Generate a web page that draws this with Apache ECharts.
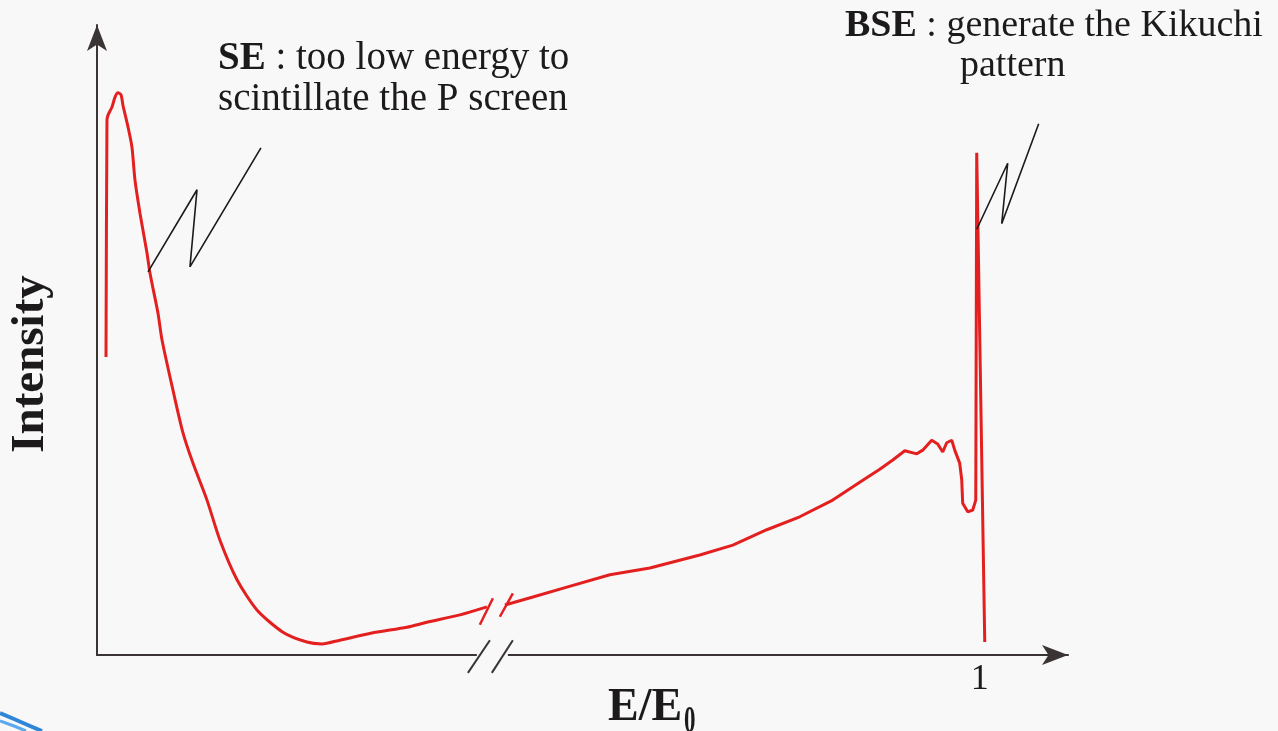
<!DOCTYPE html>
<html>
<head>
<meta charset="utf-8">
<script src="https://cdn.jsdelivr.net/npm/echarts@6/dist/echarts.min.js"></script>
<style>
html,body{margin:0;padding:0;background:#f8f8f8;}
#chart{width:1278px;height:731px;}
</style>
</head>
<body>
<div id="chart"></div>
<script>
// ---- data (x = E/E0 in arbitrary axis units, 1 = elastic peak; y = intensity) ----
const seX = [0.0102,0.0113,0.0125,0.0170,0.0204,0.0238,0.0272,0.0294,0.0351,0.0396,0.0430,0.0487,0.0566,0.0600,0.0691,0.0736,0.0861,0.0974,0.1087,0.1246,0.1393,0.1586,0.1812,0.2106,0.2378,0.2548,0.2752,0.3126,0.3511,0.3737,0.4111,0.4417];
const seY = [48.3,86.7,87.5,88.8,90.4,91.1,90.8,89.1,85.6,82.3,77.0,71.6,65.2,61.9,55.4,51.1,42.9,36.0,31.1,25.1,18.6,12.2,7.3,3.7,2.1,1.8,2.4,3.6,4.5,5.3,6.5,7.8];

const bseX = [0.4621,0.4938,0.5323,0.5810,0.6263,0.6829,0.7203,0.7588,0.7961,0.8335,0.8641,0.8868,0.9015,0.9151,0.9287,0.9354,0.9456,0.9524,0.9581,0.9626,0.9683,0.9717,0.9773,0.9796,0.9807,0.9864,0.9921,0.9955,0.9966,1.0057];
const bseY = [8.1,9.4,11.0,13.0,14.1,16.2,17.8,20.3,22.4,25.1,28.0,30.1,31.6,33.1,32.6,33.2,34.8,34.2,32.9,34.4,34.8,33.2,31.1,28.4,24.6,23.2,23.5,25.1,81.4,2.1];

// annotation leader zigzags
const seNoteX = [0.0578,0.1133,0.1053,0.1857];
const seNoteY = [62.1,75.4,62.9,82.2];
const bseNoteX = [0.9966,1.0317,1.0249,1.0668];
const bseNoteY = [69.0,79.7,69.9,86.1];

// break marks
const curveBreakX = [[0.4337,0.4485],[0.4564,0.4711]];
const curveBreakY = [[4.9,9.2],[6.2,10.0]];
const axisBreakX = [[0.4202,0.4451],[0.4473,0.4711]];
const axisBreakY = [[-2.9,2.4],[-2.9,2.4]];
const axisGapX = [0.4303,0.4655];

// axis labels / texts
const xTickValues = [1];
const xTickLabels = ['1'];
const xTitle = 'E/E';
const xTitleSub = '0';
const yTitle = 'Intensity';
const seTitle = 'SE';
const seText1 = ' : too low energy to';
const seText2 = 'scintillate the P screen';
const bseTitle = 'BSE';
const bseText1 = ' : generate the Kikuchi';
const bseText2 = 'pattern';

// ---- chart ----
const zip = (xs, ys) => xs.map((x, i) => [x, ys[i]]);
const RED = '#e3201f';
const INK = '#1c1a1a';
const AXIS = '#3a3434';
const BG = '#f8f8f8';
const SERIF = '"Liberation Serif", "DejaVu Serif", serif';

const chart = echarts.init(document.getElementById('chart'), null, {renderer: 'canvas'});

const breakSeries = [];
curveBreakX.forEach((xs, i) => breakSeries.push({
  type: 'line', data: zip(xs, curveBreakY[i]), symbol: 'none', silent: true, clip: false, z: 4,
  lineStyle: {color: RED, width: 2.5}
}));
axisBreakX.forEach((xs, i) => breakSeries.push({
  type: 'line', data: zip(xs, axisBreakY[i]), symbol: 'none', silent: true, clip: false, z: 4,
  lineStyle: {color: AXIS, width: 2}
}));

chart.setOption({
  backgroundColor: BG,
  animation: false,
  grid: {left: 97, right: 210, top: 25, bottom: 76, containLabel: false, outerBoundsMode: 'none'},
  xAxis: {
    type: 'value', min: 0, max: 1.1, interval: 0.5,
    axisLine: {show: true, symbol: ['none', 'arrow'], symbolSize: [15, 26], lineStyle: {color: AXIS, width: 2}},
    axisTick: {show: false},
    splitLine: {show: false},
    axisLabel: {
      show: true, margin: 7, fontFamily: SERIF, fontSize: 36, color: INK,
      formatter: v => { const k = xTickValues.findIndex(t => Math.abs(t - v) < 1e-6); return k >= 0 ? xTickLabels[k] : ''; }
    }
  },
  yAxis: {
    type: 'value', min: 0, max: 102.1,
    axisLine: {show: true, symbol: ['none', 'arrow'], symbolSize: [15, 26], lineStyle: {color: AXIS, width: 2}},
    axisTick: {show: false},
    splitLine: {show: false},
    axisLabel: {show: false}
  },
  series: [
    {type: 'line', data: zip(seX, seY), symbol: 'none', silent: true, z: 3, smooth: 0.25, lineStyle: {color: RED, width: 3}},
    {type: 'line', data: zip(bseX, bseY), symbol: 'none', silent: true, z: 3, clip: false, lineStyle: {color: RED, width: 3}},
    {type: 'line', data: zip(seNoteX, seNoteY), symbol: 'none', silent: true, z: 5, clip: false, lineStyle: {color: INK, width: 1.6}},
    {type: 'line', data: zip(bseNoteX, bseNoteY), symbol: 'none', silent: true, z: 5, clip: false, lineStyle: {color: INK, width: 1.6}}
  ].concat(breakSeries)
});

// gap in x-axis line (positions derived from the data scale)
const g0 = chart.convertToPixel({gridIndex: 0}, [axisGapX[0], 0]);
const g1 = chart.convertToPixel({gridIndex: 0}, [axisGapX[1], 0]);

chart.setOption({
  graphic: [
    {type: 'rect', z: 1, silent: true, shape: {x: g0[0], y: g0[1] - 4, width: g1[0] - g0[0], height: 8}, style: {fill: BG}},
    {type: 'text', z: 10, x: 218, y: 38, silent: true, style: {
      text: '{b|' + seTitle + '}{r|' + seText1 + '}\n{r|' + seText2 + '}',
      verticalAlign: 'top', align: 'left',
      rich: {
        b: {fontFamily: SERIF, fontWeight: 'bold', fontSize: 39, lineHeight: 41, fill: INK},
        r: {fontFamily: SERIF, fontSize: 39, lineHeight: 41, fill: INK}
      }
    }},
    {type: 'text', z: 10, x: 845, y: 6, silent: true, style: {
      text: '{b|' + bseTitle + '}{r|' + bseText1 + '}',
      verticalAlign: 'top', align: 'left',
      rich: {
        b: {fontFamily: SERIF, fontWeight: 'bold', fontSize: 38, lineHeight: 40, fill: INK},
        r: {fontFamily: SERIF, fontSize: 38, lineHeight: 40, fill: INK}
      }
    }},
    {type: 'text', z: 10, x: 960, y: 47, silent: true, style: {
      text: bseText2, font: '38px ' + SERIF, fill: INK, verticalAlign: 'top', align: 'left'
    }},
    {type: 'text', z: 10, x: 31, y: 364, rotation: Math.PI / 2, silent: true, style: {
      text: yTitle, font: 'bold 47px ' + SERIF, fill: INK, verticalAlign: 'middle', align: 'center'
    }},
    {type: 'text', z: 10, x: 608, y: 685, silent: true, style: {
      text: xTitle, font: 'bold 46px ' + SERIF, fill: INK, verticalAlign: 'top', align: 'left'
    }},
    {type: 'text', z: 10, x: 684, y: 704, scaleX: 0.62, silent: true, style: {
      text: xTitleSub, font: 'bold 37px ' + SERIF, fill: INK, verticalAlign: 'top', align: 'left'
    }},
    // slide decoration swoosh in the lower-left corner
    {type: 'polyline', z: 1, silent: true, shape: {points: [[0, 713], [14, 719], [30, 726], [42, 731]]}, style: {stroke: '#2f86d8', lineWidth: 4, fill: null}},
    {type: 'polyline', z: 1, silent: true, shape: {points: [[0, 721], [14, 726], [26, 731]]}, style: {stroke: '#5aa8ee', lineWidth: 3, fill: null}}
  ]
});
</script>
</body>
</html>
